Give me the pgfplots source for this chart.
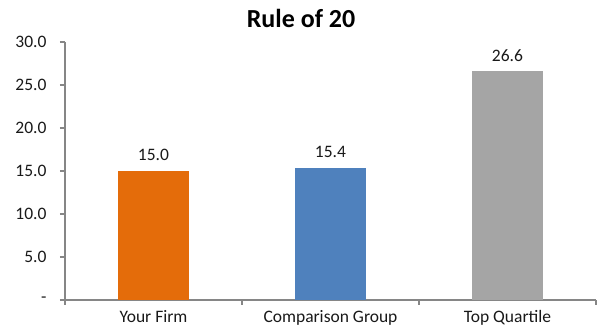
\documentclass[border=0pt]{standalone}
\usepackage{fontspec}
\setmainfont{Carlito}
\usepackage{pgfplots}
\pgfplotsset{compat=1.18}
\definecolor{barorange}{HTML}{E46C0A}
\definecolor{barblue}{HTML}{4F81BD}
\definecolor{bargray}{HTML}{A5A5A5}
\definecolor{axgray}{HTML}{868686}
\begin{document}
\begin{tikzpicture}
\useasboundingbox (-65bp,-35bp) rectangle (538bp,300bp);
\begin{axis}[
  at={(0,0)}, anchor=south west,
  scale only axis,
  width=531bp, height=258bp,
  xmin=-0.5, xmax=2.5,
  ymin=0, ymax=30,
  axis x line*=bottom, axis y line*=left,
  axis line style={axgray, line width=1.2bp, -},
  xtick={0,1,2},
  xticklabels={Your Firm, Comparison Group, Top Quartile},
  major x tick style={draw=none},
  minor xtick={-0.5,0.5,1.5,2.5},
  minor tick length=5bp,
  minor tick style={axgray, line width=1.2bp},
  ytick={0,5,10,15,20,25,30},
  yticklabels={{-\hspace{6bp}},{5.0},{10.0},{15.0},{20.0},{25.0},{30.0}},
  major tick length=5bp,
  major y tick style={axgray, line width=1.2bp},
  tick align=outside,
  tick pos=left,
  ticklabel style={font=\fontsize{17.5bp}{21bp}\selectfont, text=black!90},
  xticklabel style={yshift=-2bp},
  yticklabel style={xshift=-10bp},
  ybar, bar width=0.4, bar shift=0,
  nodes near coords,
  nodes near coords style={font=\fontsize{17.5bp}{21bp}\selectfont, text=black!90, anchor=base, yshift=10bp,
    /pgf/number format/.cd, fixed, fixed zerofill, precision=1, assume math mode=true},
  clip=false,
]
\addplot[fill=barorange, draw=none] coordinates {(0,15.0)};
\addplot[fill=barblue, draw=none] coordinates {(1,15.4)};
\addplot[fill=bargray, draw=none] coordinates {(2,26.6)};
\end{axis}
\node[font=\fontsize{26bp}{30bp}\selectfont\bfseries] at (236bp,282bp) {Rule of 20};
\end{tikzpicture}
\end{document}
